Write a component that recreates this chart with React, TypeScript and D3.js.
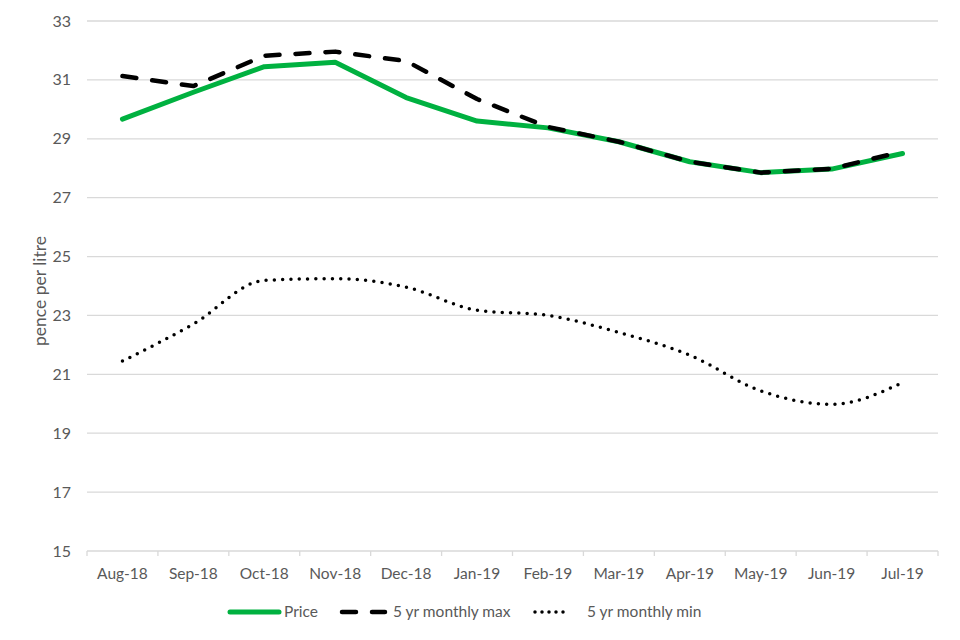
import { useEffect } from "react";
import * as d3 from "d3";

const months = [
  "Aug-18", "Sep-18", "Oct-18", "Nov-18", "Dec-18", "Jan-19",
  "Feb-19", "Mar-19", "Apr-19", "May-19", "Jun-19", "Jul-19",
];
const price = [29.67, 30.58, 31.45, 31.6, 30.4, 29.6, 29.37, 28.9, 28.22, 27.85, 27.97, 28.5];
const maxSeries = [31.13, 30.79, 31.82, 31.96, 31.64, 30.35, 29.4, 28.9, 28.22, 27.85, 27.98, 28.57];
const minSeries = [21.45, 22.71, 24.19, 24.25, 23.96, 23.18, 23.0, 22.42, 21.65, 20.44, 19.98, 20.72];
const yTicks = [15, 17, 19, 21, 23, 25, 27, 29, 31, 33];

const width = 960;
const height = 640;
const margin = { top: 21, right: 22, bottom: 89, left: 87 };
const font = "Lato, 'Open Sans', sans-serif";
const textColor = "#595959";
const gridColor = "#d9d9d9";
const green = "#00b140";

export default function App() {
  useEffect(() => {
    document.body.style.margin = "0";
  }, []);

  const x = d3
    .scaleBand<string>()
    .domain(months)
    .range([margin.left, width - margin.right]);
  const y = d3
    .scaleLinear()
    .domain([15, 33])
    .range([height - margin.bottom, margin.top]);

  const cx = (i: number) => x(months[i])! + x.bandwidth() / 2;

  const straight = d3
    .line<number>()
    .x((_, i) => cx(i))
    .y((d) => y(d));
  const smooth = d3
    .line<number>()
    .x((_, i) => cx(i))
    .y((d) => y(d))
    .curve(d3.curveMonotoneX);

  const bottom = height - margin.bottom;
  const boundaries = months.map((m) => x(m)!).concat([width - margin.right]);

  const legendY = 612;
  const legend = [
    { label: "Price", x1: 230, x2: 279, tx: 284, stroke: green, dash: undefined, w: 5 },
    { label: "5 yr monthly max", x1: 342, x2: 385, tx: 393, stroke: "#000", dash: "14 16", w: 4.5 },
    { label: "5 yr monthly min", x1: 535, x2: 569, tx: 587, stroke: "#000", dash: "0 7", w: 3.5 },
  ];

  return (
    <svg width={width} height={height} style={{ display: "block", fontFamily: font }}>
      <rect width={width} height={height} fill="#fff" />
      {yTicks.map((t) => (
        <g key={t}>
          <line
            x1={margin.left}
            x2={width - margin.right}
            y1={y(t)}
            y2={y(t)}
            stroke={gridColor}
            strokeWidth={1.3}
          />
          <text
            x={71}
            y={y(t)}
            dy="0.35em"
            textAnchor="end"
            fontSize={16}
            fill={textColor}
          >
            {t}
          </text>
        </g>
      ))}
      {boundaries.map((bx, i) => (
        <line key={i} x1={bx} x2={bx} y1={bottom} y2={bottom + 5} stroke={gridColor} strokeWidth={1.3} />
      ))}
      {months.map((m, i) => (
        <text
          key={m}
          x={cx(i)}
          y={574}
          dy="0.35em"
          textAnchor="middle"
          fontSize={15.5}
          fill={textColor}
        >
          {m}
        </text>
      ))}
      <text
        transform={`translate(40,${(margin.top + bottom) / 2 + 5}) rotate(-90)`}
        textAnchor="middle"
        dy="0.35em"
        fontSize={17.5}
        fill={textColor}
      >
        pence per litre
      </text>

      <path d={smooth(minSeries)!} fill="none" stroke="#000" strokeWidth={3.5} strokeDasharray="0 8.3" strokeLinecap="round" />
      <path d={straight(price)!} fill="none" stroke={green} strokeWidth={5} strokeLinejoin="round" strokeLinecap="round" />
      <path d={straight(maxSeries)!} fill="none" stroke="#000" strokeWidth={4.5} strokeDasharray="14 16" strokeLinecap="round" strokeLinejoin="round" />

      {legend.map((l) => (
        <g key={l.label}>
          <line
            x1={l.x1}
            x2={l.x2}
            y1={legendY}
            y2={legendY}
            stroke={l.stroke}
            strokeWidth={l.w}
            strokeDasharray={l.dash}
            strokeLinecap="round"
          />
          <text x={l.tx} y={legendY} dy="0.35em" fontSize={15.5} fill={textColor}>
            {l.label}
          </text>
        </g>
      ))}
    </svg>
  );
}
